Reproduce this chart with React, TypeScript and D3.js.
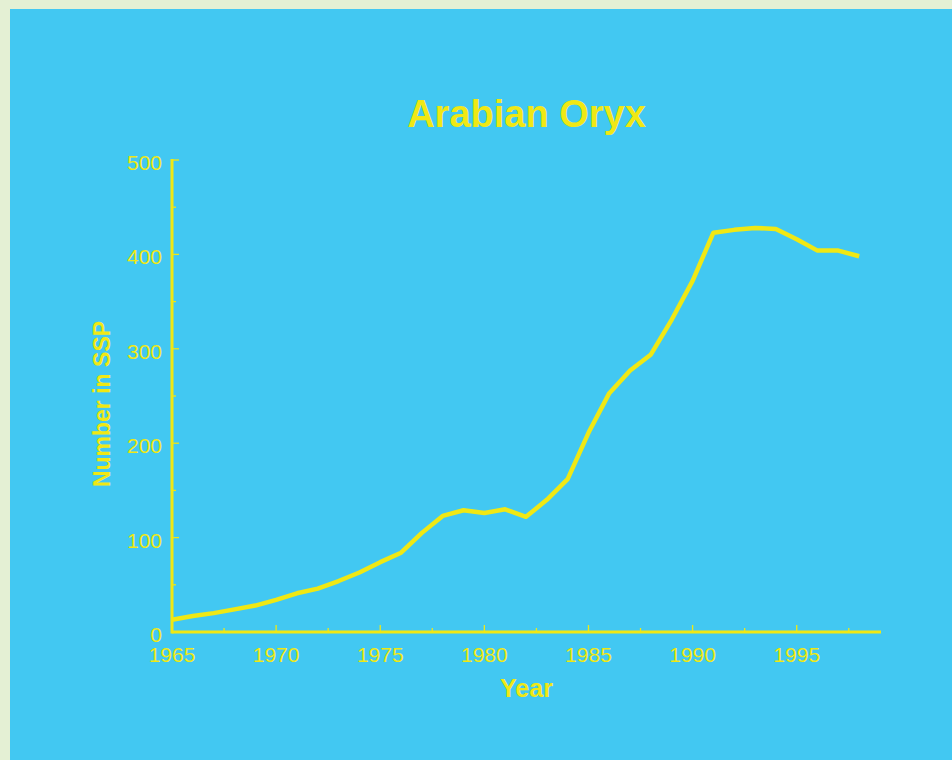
import React, { useEffect, useRef } from "react";
import * as d3 from "d3";

const years: number[] = [1965,1966,1967,1968,1969,1970,1971,1972,1973,1974,1975,1976,1977,1978,1979,1980,1981,1982,1983,1984,1985,1986,1987,1988,1989,1990,1991,1992,1993,1994,1995,1996,1997,1998];
const counts: number[] = [13,17,20,24,28,34,41,46,54,63,74,84,105,123,129,126,130,122,140,162,211,253,277,294,331,372,423,426,428,427,416,404,404,398];
const xTickValues: number[] = [1965,1970,1975,1980,1985,1990,1995];
const yTickValues: number[] = [0,100,200,300,400,500];
const titleText = "Arabian Oryx";
const xLabel = "Year";
const yLabel = "Number in SSP";

const W = 952, H = 760;
const BG = "#e4f0d4";
const PANEL = "#42c8f2";
const YEL = "#f0e814";
const FONT = "'Liberation Sans', Arial, sans-serif";

export default function App() {
  const ref = useRef<SVGSVGElement>(null);
  useEffect(() => {
    const svg = d3.select(ref.current!);
    svg.selectAll("*").remove();
    svg.append("rect").attr("x", 0).attr("y", 0).attr("width", W).attr("height", H).attr("fill", BG);
    svg.append("rect").attr("x", 10).attr("y", 9).attr("width", W - 10).attr("height", H - 9).attr("fill", PANEL);

    const x = d3.scaleLinear().domain([1965, 1999]).range([172, 880]);
    const y = d3.scaleLinear().domain([0, 500]).range([632, 160]);

    const g = svg.append("g");
    // minor ticks
    const xMinor = d3.range(1965, 1999.01, 2.5);
    g.selectAll(".xminor").data(xMinor).enter().append("line")
      .attr("x1", d => x(d)).attr("x2", d => x(d))
      .attr("y1", 632).attr("y2", d => (d % 5 === 0 ? 625 : 628))
      .attr("stroke", YEL).attr("stroke-width", 1.3);
    const yMinor = d3.range(0, 500.01, 50);
    g.selectAll(".yminor").data(yMinor).enter().append("line")
      .attr("y1", d => y(d)).attr("y2", d => y(d))
      .attr("x1", 172).attr("x2", d => (d % 100 === 0 ? 179 : 176))
      .attr("stroke", YEL).attr("stroke-width", 1.3);

    // axes lines
    g.append("line").attr("x1", 172).attr("x2", 881).attr("y1", 632).attr("y2", 632)
      .attr("stroke", YEL).attr("stroke-width", 3);
    g.append("line").attr("x1", 172).attr("x2", 172).attr("y1", 159).attr("y2", 633.5)
      .attr("stroke", YEL).attr("stroke-width", 3);

    // tick labels
    g.selectAll(".xt").data(xTickValues).enter().append("text")
      .attr("x", d => x(d)).attr("y", 662).attr("text-anchor", "middle")
      .attr("font-family", FONT).attr("font-size", 21).attr("fill", YEL)
      .text(d => String(d));
    g.selectAll(".yt").data(yTickValues).enter().append("text")
      .attr("x", 162).attr("y", d => y(d) + 10).attr("text-anchor", "end")
      .attr("font-family", FONT).attr("font-size", 21).attr("fill", YEL)
      .text(d => String(d));

    // line
    const line = d3.line<number>().x((_, i) => x(years[i])).y(d => y(d));
    g.append("path").datum(counts).attr("d", line).attr("fill", "none")
      .attr("stroke", YEL).attr("stroke-width", 4.5).attr("stroke-linejoin", "round");

    // titles
    svg.append("text").attr("x", 526.5).attr("y", 127).attr("text-anchor", "middle")
      .attr("font-family", FONT).attr("font-weight", "bold").attr("font-size", 38)
      .attr("fill", YEL).text(titleText);
    svg.append("text").attr("x", 526.5).attr("y", 697).attr("text-anchor", "middle")
      .attr("font-family", FONT).attr("font-weight", "bold").attr("font-size", 25)
      .attr("fill", YEL).text(xLabel);
    svg.append("text").attr("transform", "translate(110,404) rotate(-90)").attr("text-anchor", "middle")
      .attr("font-family", FONT).attr("font-weight", "bold").attr("font-size", 23)
      .attr("fill", YEL).text(yLabel);
  }, []);
  return (
    <div style={{ position: "fixed", left: 0, top: 0, width: W, height: H, background: BG }}>
      <svg ref={ref} width={W} height={H} style={{ display: "block" }} />
    </div>
  );
}
